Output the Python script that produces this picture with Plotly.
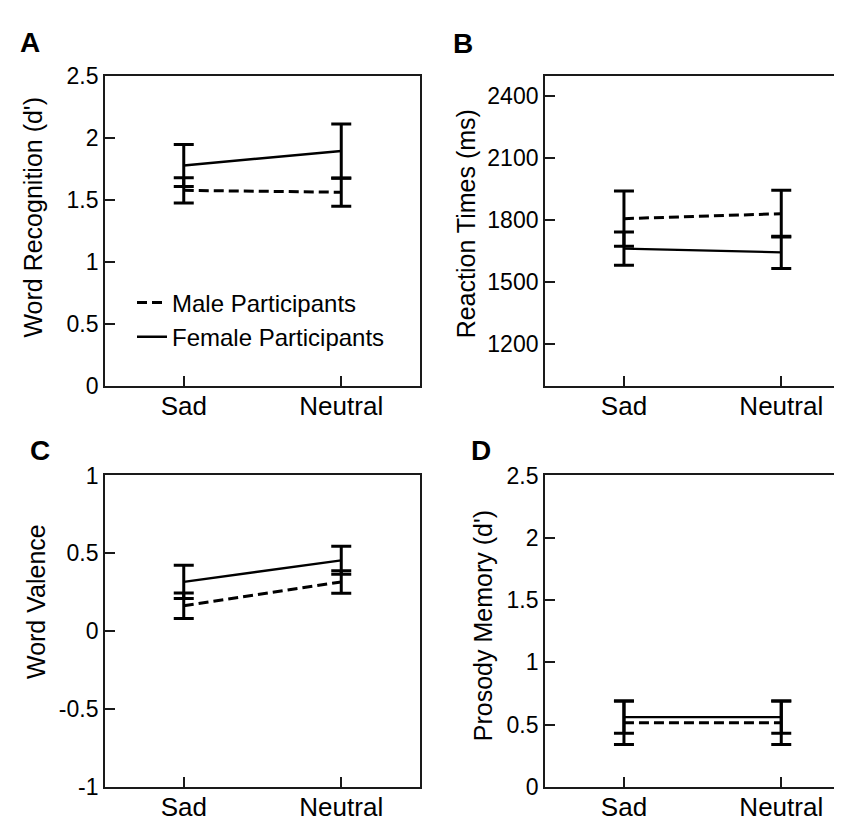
import plotly.graph_objects as go

# ---------------- data ----------------
conditions = ["Sad", "Neutral"]
series_names = ["Male Participants", "Female Participants"]

recog_male = [1.575, 1.56]
recog_male_se = [0.102, 0.113]
recog_female = [1.776, 1.893]
recog_female_se = [0.169, 0.218]

rt_male = [1808, 1832]
rt_male_se = [134, 113]
rt_female = [1663, 1645]
rt_female_se = [81, 78]

val_male = [0.164, 0.316]
val_male_se = [0.082, 0.072]
val_female = [0.317, 0.455]
val_female_se = [0.107, 0.09]

pros_male = [0.515, 0.515]
pros_male_se = [0.175, 0.175]
pros_female = [0.56, 0.56]
pros_female_se = [0.13, 0.13]

recog_ticks = [0, 0.5, 1, 1.5, 2, 2.5]
rt_ticks = [1200, 1500, 1800, 2100, 2400]
val_ticks = [-1, -0.5, 0, 0.5, 1]
pros_ticks = [0, 0.5, 1, 1.5, 2, 2.5]

titles = ["Word Recognition (d')", "Reaction Times (ms)", "Word Valence", "Prosody Memory (d')"]
panel_letters = ["A", "B", "C", "D"]

# ---------------- layout helpers ----------------
W, H = 842, 821
FONT = "Liberation Sans, Arial, Helvetica, sans-serif"
LINE = "#1a1a1a"

def fx(p):
    return p / W

def fy(p):
    return 1 - p / H

fig = go.Figure()

panels = [
    (recog_male, recog_male_se, recog_female, recog_female_se, "x", "y"),
    (rt_male, rt_male_se, rt_female, rt_female_se, "x2", "y2"),
    (val_male, val_male_se, val_female, val_female_se, "x3", "y3"),
    (pros_male, pros_male_se, pros_female, pros_female_se, "x4", "y4"),
]

for i, (m, mse, f, fse, xa, ya) in enumerate(panels):
    show = i == 0
    fig.add_trace(go.Scatter(
        x=conditions, y=m, mode="lines", name=series_names[0],
        legendgroup="male", showlegend=show,
        line=dict(color="black", width=3, dash="10px,5px"),
        error_y=dict(type="data", array=mse, visible=True, color="black",
                     thickness=3, width=10),
        xaxis=xa, yaxis=ya))
    fig.add_trace(go.Scatter(
        x=conditions, y=f, mode="lines", name=series_names[1],
        legendgroup="female", showlegend=show,
        line=dict(color="black", width=2.4),
        error_y=dict(type="data", array=fse, visible=True, color="black",
                     thickness=3, width=10),
        xaxis=xa, yaxis=ya))

left_x = [fx(97), fx(412)]
right_x = [fx(537), 1.0]
top_y = [fy(376.5), fy(56.5)]
bot_y = [fy(791), fy(469.3)]

def xaxis(domain, rng, anchor):
    return dict(domain=domain, anchor=anchor, type="category",
                range=rng, showline=True, linecolor=LINE, linewidth=1.8,
                mirror=True, ticks="inside", ticklen=10, tickwidth=1.8,
                tickcolor=LINE, showgrid=False, zeroline=False,
                ticklabelstandoff=-4,
                tickfont=dict(family=FONT, size=26, color="black"))

def yaxis(domain, rng, tickvals, anchor, mirror):
    return dict(domain=domain, anchor=anchor, range=rng,
                tickvals=tickvals, ticktext=[f"{v:g}" for v in tickvals],
                showline=True, linecolor=LINE, linewidth=1.8, mirror=mirror,
                ticks="inside", ticklen=10, tickwidth=1.8, tickcolor=LINE,
                showgrid=False, zeroline=False,
                tickfont=dict(family=FONT, size=23, color="black"))

fig.update_layout(
    width=W, height=H,
    margin=dict(l=0, r=0, t=0, b=0),
    paper_bgcolor="white", plot_bgcolor="white",
    font=dict(family=FONT, color="black"),
    xaxis=xaxis(left_x, [-0.5, 1.5], "y"),
    yaxis=yaxis(top_y, [0, 2.5], recog_ticks, "x", True),
    xaxis2=xaxis(right_x, [-0.502, 1.437], "y2"),
    yaxis2=yaxis(top_y, [1000, 2500], rt_ticks, "x2", False),
    xaxis3=xaxis(left_x, [-0.5, 1.5], "y3"),
    yaxis3=yaxis(bot_y, [-1, 1], val_ticks, "x3", True),
    xaxis4=xaxis(right_x, [-0.502, 1.437], "y4"),
    yaxis4=yaxis(bot_y, [0, 2.5], pros_ticks, "x4", False),
    legend=dict(x=fx(124), y=fy(268), xanchor="left", yanchor="top",
                bgcolor="rgba(0,0,0,0)", font=dict(family=FONT, size=24, color="black"),
                tracegroupgap=0),
    showlegend=True,
)

# y-axis titles
title_pos = [(25, 203), (458, 210), (28, 600), (475, 625)]
for t, (px, py) in zip(titles, title_pos):
    fig.add_annotation(text=t, x=fx(px), y=fy(py), xref="paper", yref="paper",
                       textangle=-90, showarrow=False, xanchor="center", yanchor="middle",
                       font=dict(family=FONT, size=25, color="black"))

# panel letters
letter_pos = [(22, 22), (455, 23), (32, 444), (473, 444)]
for t, (px, py) in zip(panel_letters, letter_pos):
    fig.add_annotation(text=f"<b>{t}</b>", x=fx(px), y=fy(py), xref="paper", yref="paper",
                       showarrow=False, xanchor="center", yanchor="middle",
                       font=dict(family=FONT, size=28, color="black"))

fig.write_html("out.html")
